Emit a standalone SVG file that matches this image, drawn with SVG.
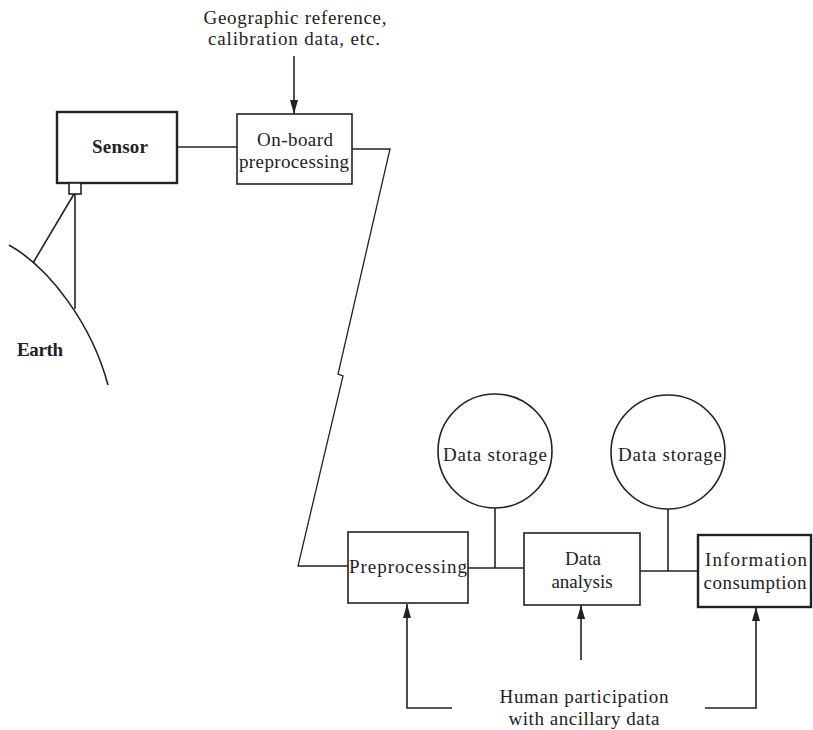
<svg xmlns="http://www.w3.org/2000/svg" width="813" height="730" viewBox="0 0 813 730">
  <defs>
    <marker id="arrow" viewBox="0 0 14 8" refX="14" refY="4" markerWidth="14" markerHeight="8" markerUnits="userSpaceOnUse" orient="auto">
      <path d="M0,0 L14,4 L0,8 Z" fill="#222"/>
    </marker>
    <style>
      .box { fill: #fff; stroke: #222; stroke-width: 1.6; }
      .heavy { stroke-width: 2.4; }
      .line { fill: none; stroke: #222; stroke-width: 1.6; }
      .thin { stroke-width: 1.3; }
      text { font-family: "Liberation Serif", "Times New Roman", serif; fill: #222; font-size: 19px; }
      .c { text-anchor: middle; }
      .b { font-weight: bold; }
    </style>
  </defs>
  <rect width="813" height="730" fill="#fff"/>

  <!-- connectors -->
  <g id="connectors">
    <!-- calibration input to on-board processing -->
    <line class="line" x1="294" y1="56" x2="294" y2="114" marker-end="url(#arrow)"/>
    <!-- sensor to on-board -->
    <line class="line" x1="177" y1="147" x2="237" y2="147"/>
    <!-- downlink with break mark -->
    <polyline class="line thin" points="352,149 390,149 338,374 343,376 298,566 348,566"/>
    <!-- processing chain -->
    <line class="line" x1="468" y1="568" x2="524" y2="568"/>
    <line class="line" x1="495" y1="508" x2="495" y2="568"/>
    <line class="line" x1="640" y1="571" x2="698" y2="571"/>
    <line class="line" x1="668" y1="509" x2="668" y2="571"/>
    <!-- human participation inputs -->
    <polyline class="line" points="452,708 407,708 407,604" marker-end="url(#arrow)"/>
    <line class="line" x1="581" y1="660" x2="581" y2="605" marker-end="url(#arrow)"/>
    <polyline class="line" points="705,708 756,708 756,607" marker-end="url(#arrow)"/>
    <!-- sensor field of view onto the earth -->
    <line class="line" x1="74" y1="194" x2="33" y2="263"/>
    <line class="line" x1="75" y1="194" x2="75" y2="309"/>
  </g>

  <g id="earth">
    <path class="line" d="M9,245 C50,268 92,325 108,385"/>
    <text class="b" x="17" y="356" textLength="46">Earth</text>
  </g>

  <g id="calibration-label">
    <text class="c" x="295" y="24" textLength="183">Geographic reference,</text>
    <text class="c" x="294" y="45" textLength="172">calibration data, etc.</text>
  </g>

  <g id="sensor">
    <rect class="box heavy" x="57" y="112" width="120" height="71"/>
    <rect class="box" x="69" y="183" width="12" height="11"/>
    <text class="c b" x="120" y="153" font-size="19" textLength="56">Sensor</text>
  </g>

  <g id="onboard-preprocessing">
    <rect class="box" x="237" y="114" width="115" height="70"/>
    <text class="c" x="295" y="146" textLength="76">On-board</text>
    <text class="c" x="294" y="168" textLength="110">preprocessing</text>
  </g>

  <g id="storage-1">
    <circle class="box" cx="495" cy="451" r="57"/>
    <text class="c" x="495" y="461" textLength="104">Data storage</text>
  </g>

  <g id="storage-2">
    <circle class="box" cx="668" cy="452" r="57"/>
    <text class="c" x="670" y="461" textLength="104">Data storage</text>
  </g>

  <g id="preprocessing">
    <rect class="box" x="348" y="532" width="120" height="71"/>
    <text class="c" x="408" y="573" textLength="118">Preprocessing</text>
  </g>

  <g id="data-analysis">
    <rect class="box" x="524" y="533" width="116" height="72"/>
    <text class="c" x="583" y="565">Data</text>
    <text class="c" x="582" y="588">analysis</text>
  </g>

  <g id="information-consumption">
    <rect class="box heavy" x="698" y="535" width="113" height="72"/>
    <text class="c" x="756" y="566" textLength="102">Information</text>
    <text class="c" x="755" y="589" textLength="103">consumption</text>
  </g>

  <g id="human-label">
    <text class="c" x="584" y="703" textLength="169">Human participation</text>
    <text class="c" x="584" y="725" textLength="151">with ancillary data</text>
  </g>
</svg>
